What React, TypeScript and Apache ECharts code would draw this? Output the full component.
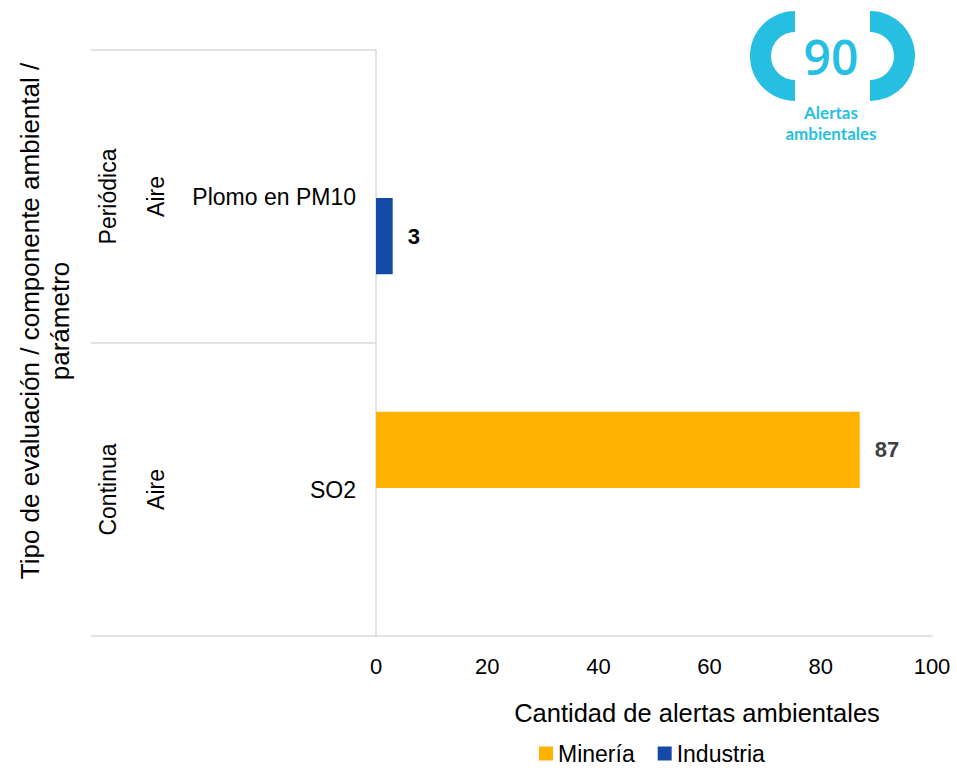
import React, { useEffect, useRef } from "react";
import * as echarts from "echarts";

const parameters = ["SO2", "Plomo en PM10"];
const components = ["Aire", "Aire"];
const evalTypes = ["Continua", "Periódica"];
const mineria = [87, null];
const industria = [null, 3];
const xTicks = { min: 0, max: 100, interval: 20 };
const totalAlerts = "90";

const FONT = "Liberation Sans, Arial, sans-serif";
const CYAN = "#26BFE2";

export default function App() {
  const ref = useRef<HTMLDivElement>(null);
  useEffect(() => {
    const chart = echarts.init(ref.current!, null, { renderer: "svg" });
    const hiddenAxis = (data: string[], margin: number) => ({
      type: "category",
      data,
      position: "left",
      gridIndex: 0,
      axisLine: { show: false },
      axisTick: { show: false },
      splitLine: { show: false },
      axisLabel: {
        rotate: 90,
        margin,
        fontSize: 23,
        color: "#000",
        fontFamily: FONT,
      },
    });
    chart.setOption({
      animation: false,
      textStyle: { fontFamily: FONT },
      grid: { left: 376, right: 25, top: 50, bottom: 134, containLabel: false },
      xAxis: {
        type: "value",
        min: xTicks.min,
        max: xTicks.max,
        interval: xTicks.interval,
        axisLine: { show: true, lineStyle: { color: "#d9d9d9", width: 1.5 } },
        axisTick: { show: false },
        splitLine: { show: false },
        axisLabel: { fontSize: 22, color: "#000", margin: 19, fontFamily: FONT },
        name: "Cantidad de alertas ambientales",
        nameLocation: "middle",
        nameGap: 64,
        nameTextStyle: {
          fontSize: 25.5,
          color: "#000",
          fontFamily: FONT,
          padding: [0, 0, 0, 86],
        },
      },
      yAxis: [
        {
          type: "category",
          data: parameters,
          position: "left",
          axisLine: { show: true, lineStyle: { color: "#d9d9d9", width: 1.5 } },
          axisTick: {
            show: true,
            length: 285,
            lineStyle: { color: "#d9d9d9", width: 1.5 },
          },
          splitLine: { show: false },
          axisLabel: { fontSize: 23, color: "#000", margin: 20, fontFamily: FONT },
        },
        hiddenAxis(components, 209),
        hiddenAxis(evalTypes, 257),
      ],
      legend: {
        bottom: 0,
        left: 534,
        data: ["Minería", "Industria"],
        icon: "rect",
        itemWidth: 14,
        itemHeight: 14,
        itemGap: 23,
        textStyle: { fontSize: 23, color: "#000", fontFamily: FONT },
      },
      series: [
        {
          name: "Minería",
          type: "bar",
          data: mineria,
          barCategoryGap: "47%",
          barGap: "4%",
          itemStyle: { color: "#FFB300" },
          label: {
            show: true,
            position: "right",
            distance: 15,
            fontSize: 22,
            fontWeight: "bold",
            color: "#404040",
            fontFamily: FONT,
          },
        },
        {
          name: "Industria",
          type: "bar",
          data: industria,
          barCategoryGap: "47%",
          barGap: "4%",
          itemStyle: { color: "#1549A8" },
          label: {
            show: true,
            position: "right",
            distance: 15,
            fontSize: 22,
            fontWeight: "bold",
            color: "#000",
            fontFamily: FONT,
          },
        },
      ],
      graphic: [
        {
          type: "text",
          x: 45,
          y: 321,
          rotation: Math.PI / 2,
          style: {
            text: "Tipo de evaluación / componente ambiental /\nparámetro",
            lineHeight: 30,
            fill: "#000",
            font: `26px ${FONT}`,
            textAlign: "center",
            textVerticalAlign: "middle",
          },
        },
        {
          type: "sector",
          shape: {
            cx: 795,
            cy: 56,
            r: 45,
            r0: 24,
            startAngle: Math.PI / 2,
            endAngle: (3 * Math.PI) / 2,
            clockwise: true,
          },
          style: { fill: CYAN },
        },
        {
          type: "sector",
          shape: {
            cx: 870,
            cy: 56,
            r: 45,
            r0: 24,
            startAngle: -Math.PI / 2,
            endAngle: Math.PI / 2,
            clockwise: true,
          },
          style: { fill: CYAN },
        },
        {
          type: "text",
          x: 831,
          y: 56,
          style: {
            text: totalAlerts,
            font: `600 48px "Open Sans", Lato, sans-serif`,
            fill: CYAN,
            textAlign: "center",
            textVerticalAlign: "middle",
          },
        },
        {
          type: "text",
          x: 831,
          y: 112.5,
          style: {
            text: "Alertas",
            font: `bold 17px Lato, "Open Sans", sans-serif`,
            fill: CYAN,
            textAlign: "center",
            textVerticalAlign: "middle",
          },
        },
        {
          type: "text",
          x: 831,
          y: 133,
          style: {
            text: "ambientales",
            font: `bold 17px Lato, "Open Sans", sans-serif`,
            fill: CYAN,
            textAlign: "center",
            textVerticalAlign: "middle",
          },
        },
      ],
    });
    return () => chart.dispose();
  }, []);
  return <div ref={ref} style={{ width: 957, height: 770, position: "absolute", left: 0, top: 0 }} />;
}
